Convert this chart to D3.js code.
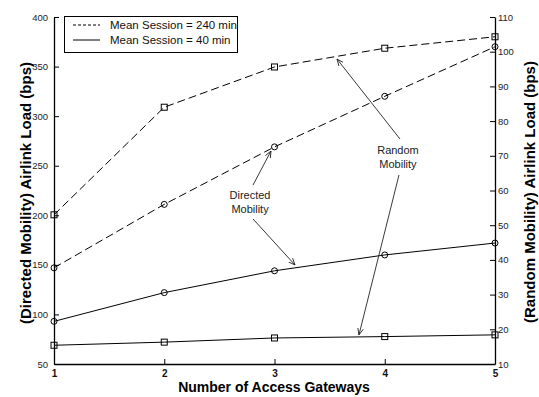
<!DOCTYPE html>
<html>
<head>
<meta charset="utf-8">
<script src="https://cdn.jsdelivr.net/npm/d3@7"></script>
<style>
  html, body { margin: 0; padding: 0; background: #fff; }
  svg { display: block; font-family: "Liberation Sans", Arial, Helvetica, sans-serif; }
</style>
</head>
<body>
<svg id="chart" width="539" height="397"></svg>
<script>
// Number of access gateways
const gateways = [1, 2, 3, 4, 5];

// Directed mobility (left axis, bps)
const directed240 = [147, 211, 269, 320, 370];
const directed40 = [93, 122, 144, 160, 172];

// Random mobility (right axis, bps)
const random240 = [53, 84, 95.6, 101, 104.3];
const random40 = [15.4, 16.3, 17.5, 17.9, 18.4];

const leftTicks = [50, 100, 150, 200, 250, 300, 350, 400];
const rightTicks = [10, 20, 30, 40, 50, 60, 70, 80, 90, 100, 110];

const legendLabels = ["Mean Session = 240 min", "Mean Session = 40 min"];

// Callouts, in gateway units and left-axis units
const callouts = [
  { lines: ["Directed", "Mobility"], x: 2.778, y: 220.5,
    arrows: [[2.805, 230.5, 2.968, 264.8], [2.805, 196.3, 3.186, 149.9]] },
  { lines: ["Random", "Mobility"], x: 4.12, y: 265.9,
    arrows: [[4.138, 277, 3.567, 357.6], [4.129, 240.6, 3.766, 79.3]] }
];

const svg = d3.select("#chart");
const plot = { left: 54, right: 495, top: 17, bottom: 364 };

const x = d3.scaleLinear().domain([1, 5]).range([plot.left, plot.right]);
const yL = d3.scaleLinear().domain([50, 400]).range([plot.bottom, plot.top]);
const yR = d3.scaleLinear().domain([10, 110]).range([plot.bottom, plot.top]);

const tickFont = "9.5px";

// Axes (MATLAB style: inward ticks, no box)
const xAxis = svg.append("g").attr("transform", `translate(0,${plot.bottom})`)
  .call(d3.axisBottom(x).tickValues(gateways).tickFormat(d3.format("d"))
    .tickSizeInner(-5).tickSizeOuter(0).tickPadding(6));
xAxis.selectAll("text").attr("font-weight", "bold").attr("font-size", "10px").attr("fill", "#111");

const lAxis = svg.append("g").attr("transform", `translate(${plot.left},0)`)
  .call(d3.axisLeft(yL).tickValues(leftTicks).tickSizeInner(-5).tickSizeOuter(0).tickPadding(6));
lAxis.selectAll("text").attr("font-size", tickFont).attr("fill", "#222");

const rAxis = svg.append("g").attr("transform", `translate(${plot.right},0)`)
  .call(d3.axisRight(yR).tickValues(rightTicks).tickSizeInner(-5).tickSizeOuter(0).tickPadding(3));
rAxis.selectAll("text").attr("font-size", tickFont).attr("fill", "#222");

svg.selectAll(".domain").attr("stroke", "#000").attr("stroke-width", 1.3);
svg.selectAll(".tick line").attr("stroke", "#000");

// Axis titles
svg.append("text").attr("x", 274).attr("y", 392)
  .attr("text-anchor", "middle").attr("font-weight", "bold").attr("font-size", "14px")
  .text("Number of Access Gateways");
svg.append("text").attr("transform", "translate(31,193) rotate(-90)")
  .attr("text-anchor", "middle").attr("font-weight", "bold").attr("font-size", "15px")
  .text("(Directed Mobility) Airlink Load (bps)");
svg.append("text").attr("transform", "translate(535,192) rotate(-90)")
  .attr("text-anchor", "middle").attr("font-weight", "bold").attr("font-size", "15px")
  .text("(Random Mobility) Airlink Load (bps)");

// Series
const series = [
  { values: directed240, y: yL, dash: "8,4", marker: "circle" },
  { values: directed40, y: yL, dash: null, marker: "circle" },
  { values: random240, y: yR, dash: "8,4", marker: "square" },
  { values: random40, y: yR, dash: null, marker: "square" }
];

series.forEach(s => {
  const pts = gateways.map((g, i) => [g, s.values[i]]);
  svg.append("path")
    .attr("d", d3.line().x(d => x(d[0])).y(d => s.y(d[1]))(pts))
    .attr("fill", "none").attr("stroke", "#000").attr("stroke-width", 1)
    .attr("stroke-dasharray", s.dash);
  const g = svg.append("g");
  if (s.marker === "circle") {
    g.selectAll("circle").data(pts).join("circle")
      .attr("cx", d => x(d[0])).attr("cy", d => s.y(d[1])).attr("r", 3)
      .attr("fill", "none").attr("stroke", "#000").attr("stroke-width", 1);
  } else {
    g.selectAll("rect").data(pts).join("rect")
      .attr("x", d => x(d[0]) - 3).attr("y", d => s.y(d[1]) - 3)
      .attr("width", 6).attr("height", 6)
      .attr("fill", "none").attr("stroke", "#000").attr("stroke-width", 1);
  }
});

// Open arrowheads
svg.append("defs").append("marker")
  .attr("id", "arrow").attr("viewBox", "0 0 10 10").attr("refX", 9.5).attr("refY", 5)
  .attr("markerWidth", 7).attr("markerHeight", 7).attr("markerUnits", "userSpaceOnUse")
  .attr("orient", "auto")
  .append("path").attr("d", "M0,1 L9.5,5 L0,9").attr("fill", "none")
  .attr("stroke", "#222").attr("stroke-width", 1.2);

callouts.forEach(c => {
  const t = svg.append("text").attr("text-anchor", "middle").attr("font-size", "11px").attr("fill", "#222");
  c.lines.forEach((ln, i) => {
    t.append("tspan").attr("x", x(c.x)).attr("y", yL(c.y) + 4 + i * 14.5).text(ln);
  });
  c.arrows.forEach(a => {
    svg.append("line")
      .attr("x1", x(a[0])).attr("y1", yL(a[1])).attr("x2", x(a[2])).attr("y2", yL(a[3]))
      .attr("stroke", "#222").attr("stroke-width", 0.9).attr("marker-end", "url(#arrow)");
  });
});

// Legend
const legend = svg.append("g");
legend.append("rect").attr("x", 64.5).attr("y", 16.5).attr("width", 173).attr("height", 36)
  .attr("fill", "#fff").attr("stroke", "#000").attr("stroke-width", 1);
legendLabels.forEach((lab, i) => {
  const yy = 25 + i * 15;
  legend.append("line").attr("x1", 73).attr("x2", 100).attr("y1", yy).attr("y2", yy)
    .attr("stroke", "#000").attr("stroke-width", 1)
    .attr("stroke-dasharray", i === 0 ? "3,2" : null);
  legend.append("text").attr("x", 110).attr("y", yy + 4).attr("font-size", "11.5px")
    .attr("fill", "#111").text(lab);
});
</script>
</body>
</html>
